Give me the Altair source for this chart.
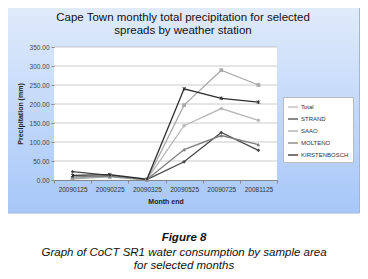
import altair as alt
import pandas as pd

months = ["20090125", "20090225", "20090325", "20090525", "20090725", "20081125"]
series_names = ["Total", "STRAND", "SAAO", "MOLTENO", "KIRSTENBOSCH"]
total = [5, 10, 1, 143, 188, 157]
strand = [22, 12, 1, 48, 125, 78]
saao = [3, 8, 0, 197, 289, 250]
molteno = [8, 10, 1, 80, 117, 93]
kirstenbosch = [12, 14, 2, 240, 215, 205]
y_ticks = [50, 100, 150, 200, 250, 300, 350]
title_lines = ["Cape Town monthly total precipitation for selected", "spreads by weather station"]
caption_head = ["Figure 8"]
caption_body = ["Graph of CoCT SR1 water consumption by sample area", "for selected months"]

colors = ["#b8b8b8", "#474747", "#a9a9a9", "#7f7f7f", "#2e2e2e"]
star = "M-1,0H1M0,-1V1M-0.7,-0.7L0.7,0.7M-0.7,0.7L0.7,-0.7"
xmark = "M-0.8,-0.8L0.8,0.8M-0.8,0.8L0.8,-0.8M0,-1V1"
shapes = [star, "diamond", "square", "triangle-up", xmark]
filled = [False, True, True, True, False]

rows = []
for name, vals in zip(series_names, [total, strand, saao, molteno, kirstenbosch]):
    for m, v in zip(months, vals):
        rows.append({"month": m, "series": name, "value": v})
df = pd.DataFrame(rows)

W, H = 223, 133
FONT = "Liberation Sans"

xscale = alt.Scale(type="band", paddingInner=0, paddingOuter=0, domain=months)
xaxis = alt.Axis(title="Month end", titleFontWeight="bold", titleFontSize=7,
                 titleFont=FONT, titleColor="#222", titlePadding=5,
                 labelFont=FONT, labelFontSize=6.5, labelColor="#333", labelAngle=0,
                 labelPadding=3, tickBand="extent", tickSize=3,
                 domainColor="#888", tickColor="#888", zindex=1)
yscale = alt.Scale(domain=[0, 350], nice=False)
yaxis = alt.Axis(title="Precipitation (mm)", titleFontWeight="bold", titleFontSize=7,
                 titleFont=FONT, titleColor="#222", titlePadding=6,
                 labelFont=FONT, labelFontSize=6.5, labelColor="#444",
                 format=".2f", values=[0] + y_ticks, labelOverlap=False,
                 grid=False, domain=False, tickSize=3, tickColor="#888",
                 labelPadding=2, zindex=1)

one = pd.DataFrame({"a": [0]})
bg = alt.Chart(one).mark_rect(
    color=alt.LinearGradient(gradient="linear", x1=0, y1=0, x2=0, y2=1,
                             stops=[alt.GradientStop(color="#e0ebfb", offset=0),
                                    alt.GradientStop(color="#a7c7f8", offset=1)]),
    stroke="#9fb6d8", strokeWidth=1
).encode(x=alt.value(-46.5), x2=alt.value(305.5), y=alt.value(-40.5), y2=alt.value(166))

plot_bg = alt.Chart(one).mark_rect(color="white").encode(
    x=alt.value(0), x2=alt.value(W), y=alt.value(0), y2=alt.value(H))

grid = alt.Chart(pd.DataFrame({"value": y_ticks})).mark_rule(color="#bdbdbd", strokeWidth=0.8).encode(
    y=alt.Y("value:Q", scale=yscale, axis=yaxis), x=alt.value(0), x2=alt.value(W))

cscale = alt.Scale(domain=series_names, range=colors)
lines = alt.Chart(df).mark_line(strokeWidth=1.3).encode(
    x=alt.X("month:N", sort=months, scale=xscale, axis=xaxis),
    y=alt.Y("value:Q", scale=yscale, axis=yaxis),
    color=alt.Color("series:N", scale=cscale, sort=series_names,
                    legend=alt.Legend(title=None, orient="none", legendX=229, legendY=50,
                                      labelFont=FONT, labelFontSize=6, labelColor="#333",
                                      symbolType="stroke", symbolSize=100, symbolStrokeWidth=1.3,
                                      rowPadding=3, fillColor="white", strokeColor="#bbbbbb",
                                      padding=4, labelOffset=2)),
    detail="series:N")

point_layers = []
for name, col, shp, fl in zip(series_names, colors, shapes, filled):
    point_layers.append(
        alt.Chart(df).transform_filter(alt.datum.series == name).mark_point(
            size=14, filled=fl, color=col, shape=shp, strokeWidth=1, opacity=1).encode(
            x=alt.X("month:N", sort=months, scale=xscale, axis=xaxis),
            y=alt.Y("value:Q", scale=yscale, axis=yaxis)))

ttl = alt.Chart(pd.DataFrame({"t": title_lines, "yy": [-29, -16]})).mark_text(
    font=FONT, fontSize=11.5, color="#111", align="center", baseline="middle").encode(
    text="t:N", x=alt.value(129), y=alt.Y("yy:Q", scale=None))
cap1 = alt.Chart(pd.DataFrame({"t": caption_head, "yy": [191]})).mark_text(
    font=FONT, fontSize=11.5, fontStyle="italic", fontWeight="bold", color="#111",
    align="center").encode(text="t:N", x=alt.value(130), y=alt.Y("yy:Q", scale=None))
cap2 = alt.Chart(pd.DataFrame({"t": caption_body, "yy": [206, 219]})).mark_text(
    font=FONT, fontSize=11.5, fontStyle="italic", color="#111",
    align="center").encode(text="t:N", x=alt.value(130), y=alt.Y("yy:Q", scale=None))

chart = alt.layer(bg, plot_bg, grid, lines, *point_layers, ttl, cap1, cap2).properties(
    width=W, height=H,
    padding={"left": 46, "top": 39, "right": 83, "bottom": 92},
    autosize=alt.AutoSizeParams(type="none"),
    background="white"
).configure_view(stroke=None)

chart.save("out.html", embed_options={"renderer": "svg", "actions": False})
